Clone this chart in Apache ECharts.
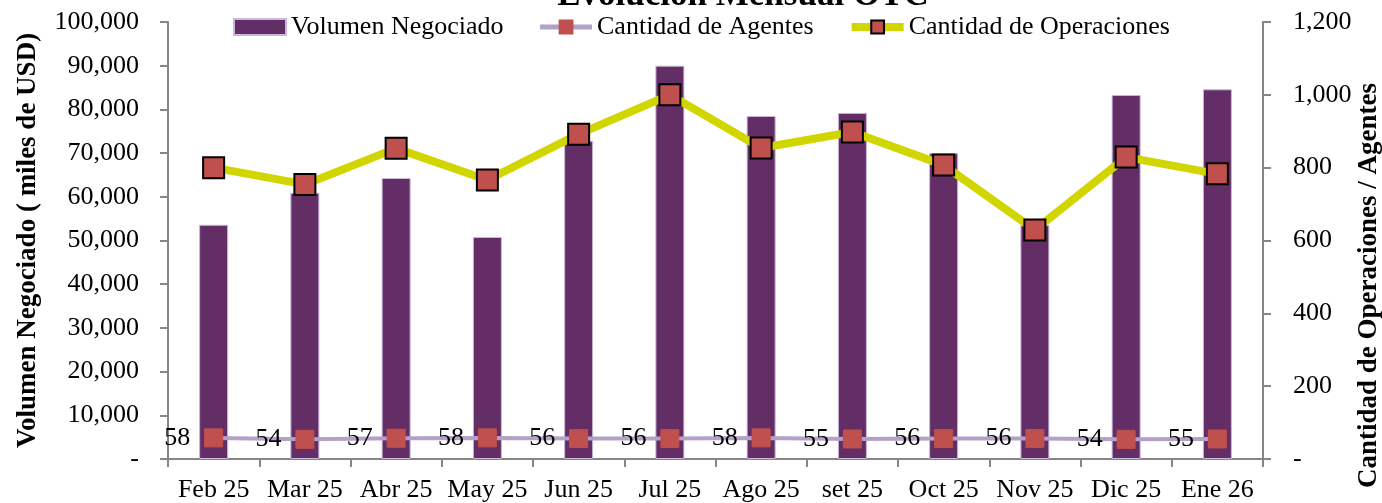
<!DOCTYPE html>
<html>
<head>
<meta charset="utf-8">
<script src="https://cdn.jsdelivr.net/npm/echarts@6/dist/echarts.min.js"></script>
<style>
  html, body { margin: 0; padding: 0; background: #fff; }
  #chart { width: 1382px; height: 503px; }
</style>
</head>
<body>
<div id="chart"></div>
<script>
const months = ['Feb 25', 'Mar 25', 'Abr 25', 'May 25', 'Jun 25', 'Jul 25', 'Ago 25', 'set 25', 'Oct 25', 'Nov 25', 'Dic 25', 'Ene 26']
const volumen = [53600, 60900, 64300, 50800, 72800, 90000, 78500, 79200, 70000, 53500, 83300, 84600]
const agentes = [58, 54, 57, 58, 56, 56, 58, 55, 56, 56, 54, 55]
const operaciones = [800, 754, 853, 766, 892, 1000, 854, 898, 807, 629, 829, 783]

const font = 'Liberation Serif'
const axisColor = '#868686'

const fmt = (v) => (v === 0 ? '-' : v.toLocaleString('en-US'))

const chart = echarts.init(document.getElementById('chart'))

const option = {
  textStyle: { fontFamily: font },
  title: {
    text: 'Evolución Mensual OTC',
    left: 738,
    textAlign: 'center',
    top: -27,
    textStyle: { fontFamily: font, fontSize: 35, fontWeight: 'bold', color: '#000' },
  },
  legend: {
    left: 228,
    top: 9,
    itemWidth: 52,
    itemHeight: 16,
    itemGap: 34,
    textStyle: { fontFamily: font, fontSize: 26, color: '#000' },
    data: [
      { name: 'Volumen Negociado', icon: 'rect' },
      { name: 'Cantidad de Agentes', lineStyle: { width: 5 } },
      { name: 'Cantidad de Operaciones', lineStyle: { width: 8 } },
    ],
  },
  grid: { left: 168, right: 119, top: 22, bottom: 44, outerBoundsMode: 'none' },
  xAxis: {
    type: 'category',
    data: months,
    axisLine: { lineStyle: { color: axisColor, width: 2 } },
    axisTick: { show: true, length: 8, lineStyle: { color: axisColor, width: 2 } },
    axisLabel: { color: '#000', fontSize: 26, fontFamily: font, margin: 18, interval: 0 },
  },
  yAxis: [
    {
      type: 'value',
      min: 0,
      max: 100000,
      interval: 10000,
      name: 'Volumen Negociado ( miles de USD)',
      nameLocation: 'middle',
      nameGap: 126,
      nameMoveOverlap: false,
      nameTextStyle: { fontFamily: font, fontSize: 27, fontWeight: 'bold', color: '#000' },
      splitLine: { show: false },
      axisLine: { show: true, lineStyle: { color: axisColor, width: 2 } },
      axisTick: { show: true, length: 8, lineStyle: { color: axisColor, width: 2 } },
      axisLabel: { color: '#000', fontSize: 26, fontFamily: font, margin: 29, formatter: fmt },
    },
    {
      type: 'value',
      min: 0,
      max: 1200,
      interval: 200,
      name: 'Cantidad de Operaciones / Agentes',
      nameLocation: 'middle',
      nameGap: 93,
      nameMoveOverlap: false,
      nameTextStyle: {
        fontFamily: font,
        fontSize: 27,
        fontWeight: 'bold',
        color: '#000',
        padding: [0, 90, 0, 0],
      },
      splitLine: { show: false },
      axisLine: { show: true, lineStyle: { color: axisColor, width: 2 } },
      axisTick: { show: true, length: 8, lineStyle: { color: axisColor, width: 2 } },
      axisLabel: { color: '#000', fontSize: 26, fontFamily: font, margin: 30, formatter: fmt },
    },
  ],
  series: [
    {
      name: 'Volumen Negociado',
      type: 'bar',
      yAxisIndex: 0,
      data: volumen,
      barWidth: 29,
      itemStyle: { color: '#632d66', borderColor: '#c9b8d8', borderWidth: 1 },
      z: 1,
    },
    {
      name: 'Cantidad de Agentes',
      type: 'line',
      yAxisIndex: 1,
      data: agentes,
      symbol: 'rect',
      symbolSize: 18,
      lineStyle: { color: '#b3a2c7', width: 4 },
      itemStyle: { color: '#c0504d', borderColor: '#c0504d', borderWidth: 1 },
      label: {
        show: true,
        position: 'left',
        distance: 14,
        color: '#000',
        fontSize: 26,
        fontFamily: font,
      },
      z: 3,
    },
    {
      name: 'Cantidad de Operaciones',
      type: 'line',
      yAxisIndex: 1,
      data: operaciones,
      symbol: 'rect',
      symbolSize: 21,
      lineStyle: { color: '#d2d600', width: 8 },
      itemStyle: { color: '#c0504d', borderColor: '#000', borderWidth: 2 },
      z: 4,
    },
  ],
}

chart.setOption(option)
</script>
</body>
</html>
